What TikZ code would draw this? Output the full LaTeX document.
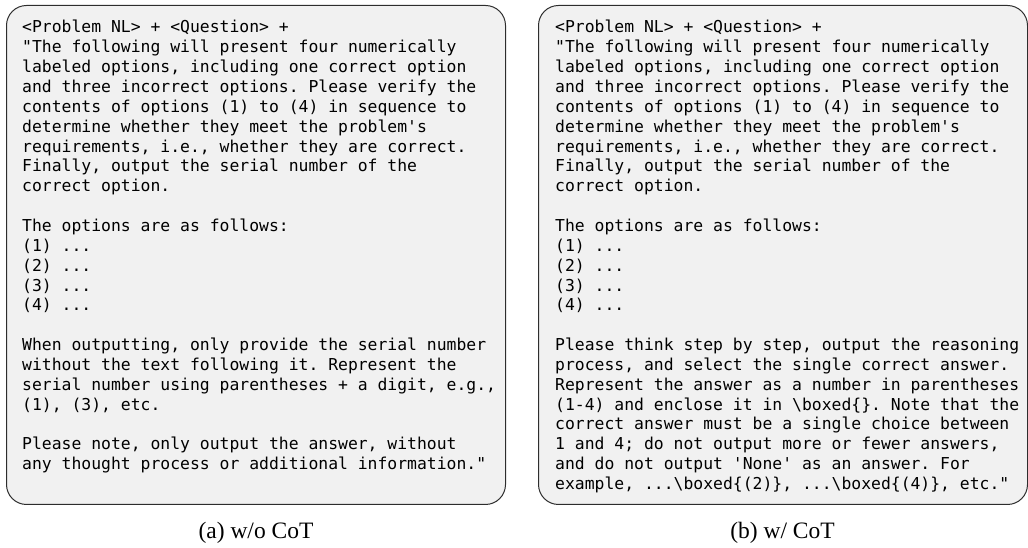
\documentclass[tikz,border=0pt]{standalone}
\usepackage{fontspec}
\newfontfamily\promptfont{DejaVu Sans Mono}
\newfontfamily\capfont{Liberation Serif}
\definecolor{promptfill}{RGB}{241,241,241}
\definecolor{promptline}{RGB}{45,45,45}
\begin{document}
\begin{tikzpicture}[x=1pt,y=1pt,
  promptbox/.style={draw=promptline, line width=1pt, fill=promptfill, rounded corners=20pt, inner sep=0pt, anchor=north west},
  prompttext/.style={inner sep=0pt, anchor=base west, font=\promptfont\fontsize{16.4}{19.85}\selectfont\frenchspacing},
  captext/.style={inner sep=0pt, anchor=base, font=\capfont\fontsize{23.5}{28}\selectfont}]
\useasboundingbox (0,0) rectangle (1028,548);
\node[promptbox, minimum width=499pt, minimum height=499pt] (boxa) at (6,543) {};
\node[promptbox, minimum width=489pt, minimum height=499pt] (boxb) at (538,543) {};
\node[prompttext] (texta) at (22,515) {\begin{tabular}[t]{@{}l@{}}
<Problem NL> + <Question> +\\
"The following will present four numerically\\
labeled options, including one correct option\\
and three incorrect options. Please verify the\\
contents of options (1) to (4) in sequence to\\
determine whether they meet the problem's\\
requirements, i.e., whether they are correct.\\
Finally, output the serial number of the\\
correct option.\\
\\
The options are as follows:\\
(1) ...\\
(2) ...\\
(3) ...\\
(4) ...\\
\\
When outputting, only provide the serial number\\
without the text following it. Represent the\\
serial number using parentheses + a digit, e.g.,\\
(1), (3), etc.\\
\\
Please note, only output the answer, without\\
any thought process or additional information."
\end{tabular}};
\node[prompttext] (textb) at (555,515) {\begin{tabular}[t]{@{}l@{}}
<Problem NL> + <Question> +\\
"The following will present four numerically\\
labeled options, including one correct option\\
and three incorrect options. Please verify the\\
contents of options (1) to (4) in sequence to\\
determine whether they meet the problem's\\
requirements, i.e., whether they are correct.\\
Finally, output the serial number of the\\
correct option.\\
\\
The options are as follows:\\
(1) ...\\
(2) ...\\
(3) ...\\
(4) ...\\
\\
Please think step by step, output the reasoning\\
process, and select the single correct answer.\\
Represent the answer as a number in parentheses\\
(1-4) and enclose it in \textbackslash boxed\{\}. Note that the\\
correct answer must be a single choice between\\
1 and 4; do not output more or fewer answers,\\
and do not output 'None' as an answer. For\\
example, ...\textbackslash boxed\{(2)\}, ...\textbackslash boxed\{(4)\}, etc."
\end{tabular}};
\node[captext] (capa) at (256,9) {(a) w/o CoT};
\node[captext] (capb) at (782.5,9) {(b) w/ CoT};
\end{tikzpicture}
\end{document}
